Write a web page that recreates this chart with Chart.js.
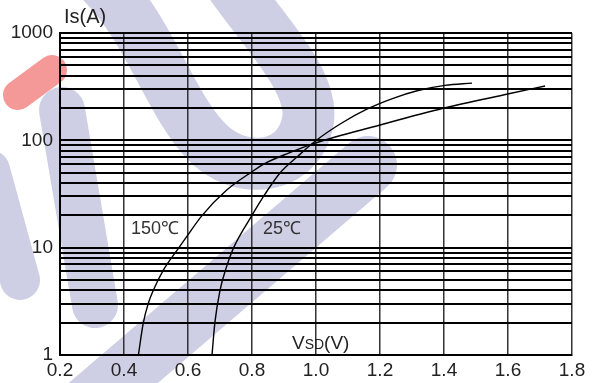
<!DOCTYPE html>
<html>
<head>
<meta charset="utf-8">
<script src="https://cdn.jsdelivr.net/npm/chart.js@4/dist/chart.umd.min.js"></script>
<style>
html,body{margin:0;padding:0;background:#fff;}
#wrap{width:594px;height:383px;position:relative;}
</style>
</head>
<body>
<div id="wrap"><canvas id="c" width="594" height="383"></canvas></div>
<script>
// ---- data ----
const xTicks = [0.2, 0.4, 0.6, 0.8, 1.0, 1.2, 1.4, 1.6, 1.8];
const yGrid = [1,2,3,4,5,6,7,8,9,10,20,30,40,50,60,70,80,90,100,200,300,400,500,600,700,800,900,1000];
const yTickLabels = [1, 10, 100, 1000];

const v150 = [0.445, 0.460, 0.476, 0.492, 0.523, 0.570, 0.597, 0.643, 0.721, 0.80, 0.841, 0.9125, 0.995, 1.20, 1.398, 1.599, 1.716];
const i150 = [1.0,   1.97,  3.03,  4.03,  6.18,  9.85,  12.8,  19.8,  34.4,  51,   61,    75.7,   93.8,  139,  199,   270,   321];

const v25 = [0.675, 0.684, 0.700, 0.719, 0.7416, 0.799, 0.8406, 0.8875, 0.944, 1.0,  1.078, 1.159, 1.241, 1.319, 1.403, 1.4875];
const i25 = [1.0,   2.0,   4.0,   6.45,  9.85,   19.8,  31.5,   49.6,   71.4,  99.5, 143.5, 195,   246,   291,   325,   341];

const curveLabels = ['150\u2103', '25\u2103'];
const labelV = [0.497, 0.894];
const labelI = [14.9, 14.9];

const yTitle = 'Is(A)';
const xTitleParts = ['V', 'SD', '(V)'];

const FONT = "'Liberation Sans', Arial, sans-serif";

// ---- decorative background watermark ----
const watermark = {
  id: 'watermark',
  beforeDraw(chart) {
    const ctx = chart.ctx;
    ctx.save();
    ctx.lineCap = 'round';
    ctx.lineJoin = 'round';
    ctx.strokeStyle = 'rgb(206,206,228)';
    // U shape
    ctx.lineWidth = 52;
    ctx.beginPath();
    ctx.moveTo(100, -20);
    ctx.bezierCurveTo(150, 30, 168, 100, 205, 140);
    ctx.bezierCurveTo(240, 178, 300, 170, 308, 120);
    ctx.bezierCurveTo(314, 80, 262, 30, 228, -20);
    ctx.stroke();
    // left descending band
    ctx.lineWidth = 46;
    ctx.beginPath();
    ctx.moveTo(62, 110);
    ctx.lineTo(95, 305);
    ctx.stroke();
    // long rising band
    ctx.lineWidth = 58;
    ctx.beginPath();
    ctx.moveTo(368, 165);
    ctx.lineTo(70, 420);
    ctx.stroke();
    // left edge band
    ctx.lineWidth = 40;
    ctx.beginPath();
    ctx.moveTo(-10, 170);
    ctx.lineTo(20, 280);
    ctx.stroke();
    // red bar
    ctx.strokeStyle = 'rgb(244,152,152)';
    ctx.lineWidth = 30;
    ctx.beginPath();
    ctx.moveTo(18, 95);
    ctx.lineTo(52, 70);
    ctx.stroke();
    ctx.restore();
  }
};

// ---- text annotations ----
const annotations = {
  id: 'annotations',
  afterDraw(chart) {
    const ctx = chart.ctx;
    const xs = chart.scales.x, ys = chart.scales.y;
    const area = chart.chartArea;
    ctx.save();
    ctx.fillStyle = '#333';
    ctx.font = '18px ' + FONT;
    ctx.textAlign = 'center';
    ctx.textBaseline = 'middle';
    curveLabels.forEach((t, k) => {
      ctx.fillText(t, xs.getPixelForValue(labelV[k]), ys.getPixelForValue(labelI[k]));
    });
    ctx.fillStyle = '#222';
    ctx.textAlign = 'left';
    ctx.textBaseline = 'alphabetic';
    ctx.font = '20px ' + FONT;
    ctx.fillText(yTitle, area.left + 4, area.top - 10);
    let x = xs.getPixelForValue(0.925);
    const base = area.bottom - 6;
    ctx.font = '19px ' + FONT;
    ctx.fillText(xTitleParts[0], x, base);
    x += ctx.measureText(xTitleParts[0]).width;
    ctx.font = '14px ' + FONT;
    ctx.fillText(xTitleParts[1], x, base);
    x += ctx.measureText(xTitleParts[1]).width;
    ctx.font = '19px ' + FONT;
    ctx.fillText(xTitleParts[2], x, base);
    ctx.restore();
  }
};

const ctx = document.getElementById('c').getContext('2d');
new Chart(ctx, {
  type: 'line',
  data: {
    datasets: [
      {
        label: '150',
        data: v150.map((v, i) => ({x: v, y: i150[i]})),
        borderColor: '#000', borderWidth: 1.4, pointRadius: 0,
        cubicInterpolationMode: 'monotone', fill: false
      },
      {
        label: '25',
        data: v25.map((v, i) => ({x: v, y: i25[i]})),
        borderColor: '#000', borderWidth: 1.4, pointRadius: 0,
        cubicInterpolationMode: 'monotone', fill: false
      }
    ]
  },
  options: {
    responsive: false,
    animation: false,
    devicePixelRatio: 1,
    layout: {padding: {left: 0, right: 22, top: 33, bottom: 0}},
    plugins: {legend: {display: false}, tooltip: {enabled: false}, title: {display: false}},
    scales: {
      x: {
        type: 'linear', min: 0.2, max: 1.8,
        afterBuildTicks: s => { s.ticks = xTicks.map(v => ({value: v})); },
        afterFit: s => { s.height = 28; },
        ticks: {
          callback: v => Number(v).toFixed(1),
          font: {family: FONT, size: 19}, color: '#222', padding: 4,
          maxRotation: 0, autoSkip: false
        },
        grid: {color: '#333', lineWidth: 1.5, drawTicks: false},
        border: {color: '#000', width: 2}
      },
      y: {
        type: 'logarithmic', min: 1, max: 1000,
        afterBuildTicks: s => { s.ticks = yGrid.map(v => ({value: v})); },
        afterFit: s => { s.width = 60; },
        ticks: {
          callback: v => yTickLabels.includes(Number(v)) ? String(v) : '',
          font: {family: FONT, size: 19}, color: '#222', padding: 7,
          autoSkip: false
        },
        grid: {color: '#000', lineWidth: 2, drawTicks: false},
        border: {color: '#000', width: 2}
      }
    }
  },
  plugins: [watermark, annotations]
});
</script>
</body>
</html>
